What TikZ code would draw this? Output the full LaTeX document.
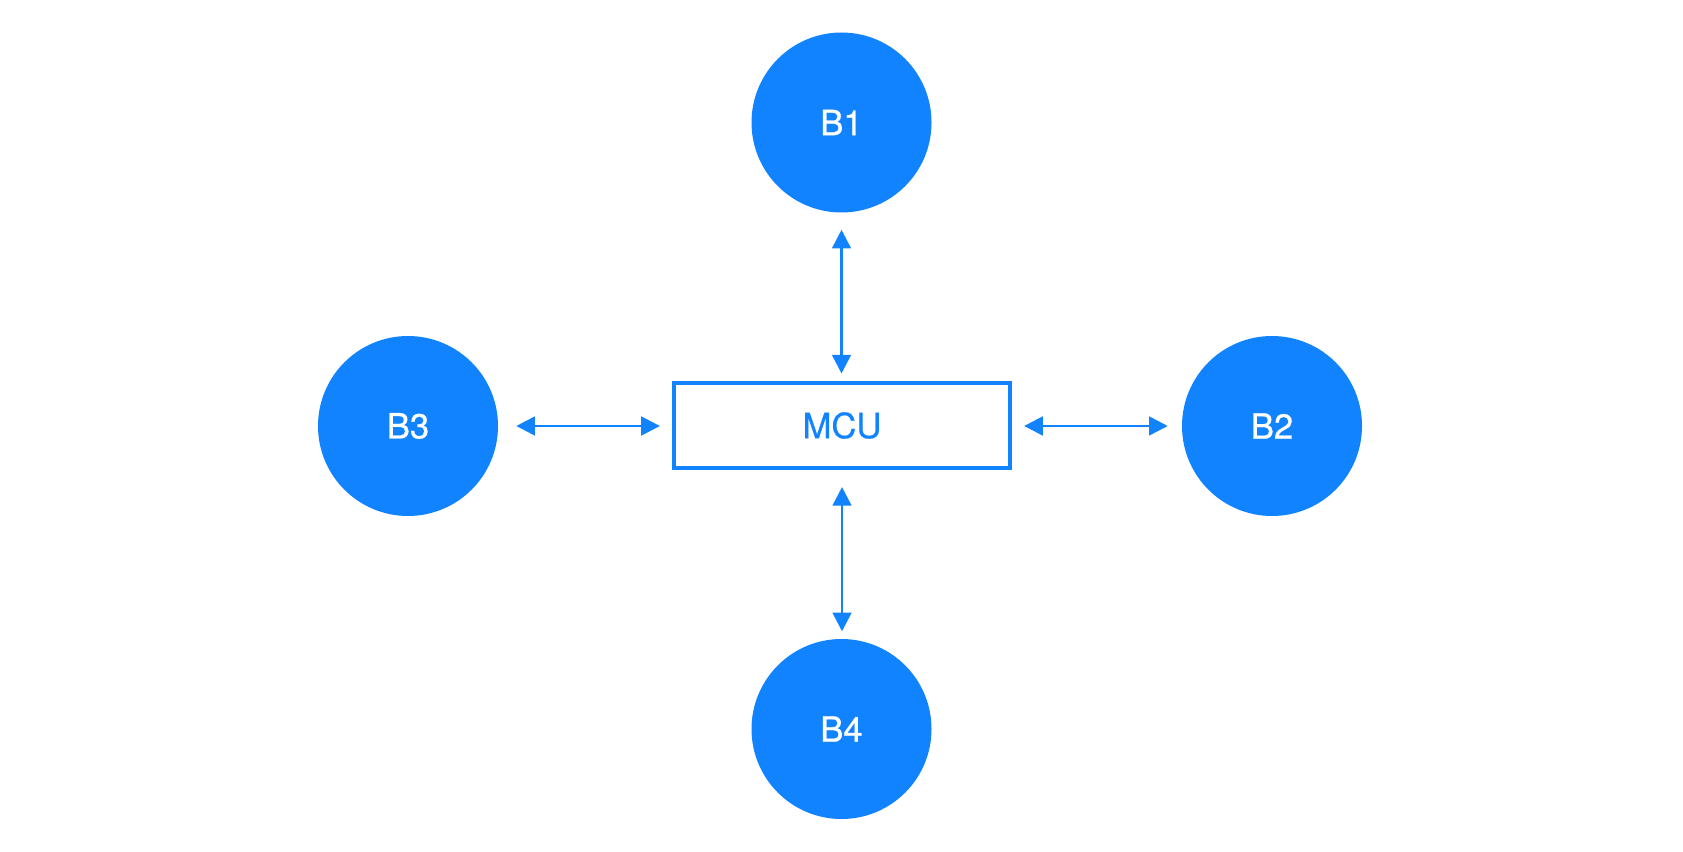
\documentclass[tikz,border=0pt]{standalone}
\usepackage{fontspec}
\setmainfont{TeX Gyre Heros}[FakeBold=0.7]
\usetikzlibrary{arrows.meta}
\definecolor{busblue}{HTML}{1283FF}
\tikzset{
  bus/.style={circle,fill=busblue,text=white,minimum size=135pt,inner sep=0pt,
    font=\fontsize{26}{30}\selectfont},
  mcubox/.style={rectangle,draw=busblue,line width=2.8pt,minimum width=252.4pt,
    minimum height=64pt,inner sep=0pt,text=busblue,font=\fontsize{26}{30}\selectfont},
  link/.style={busblue,line width=2pt,
    {Triangle[length=14pt,width=14pt]}-{Triangle[length=14pt,width=14pt]}}
}
\begin{document}
\begin{tikzpicture}[x=0.75pt,y=-0.75pt]
  \fill[white] (0,0) rectangle (1683,852);
  \useasboundingbox (0,0) rectangle (1683,852);
  \node[mcubox] (mcu) at (842,425.5) {MCU};
  \node[bus] (b1) at (841.5,122.5) {B1};
  \node[bus] (b2) at (1272,426) {B2};
  \node[bus] (b3) at (408,426) {B3};
  \node[bus] (b4) at (841.5,729) {B4};
  \draw[link,shorten <=12.75pt,shorten >=5.6pt] (b1) -- (b1|-mcu.north);
  \draw[link,shorten <=12.75pt,shorten >=5.6pt] (mcu.south) -- (mcu.south|-b4.north);
  \draw[link,shorten <=13.5pt,shorten >=9pt] (b3) -- (mcu.west|-b3);
  \draw[link,shorten <=9pt,shorten >=10.5pt] (mcu.east|-b2) -- (b2);
\end{tikzpicture}
\end{document}
